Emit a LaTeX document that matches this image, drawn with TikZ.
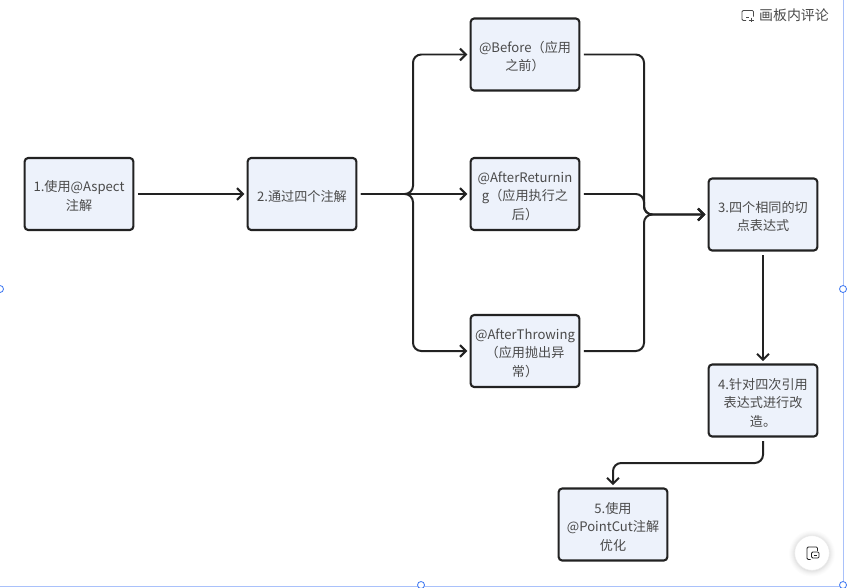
\documentclass[tikz,border=0pt]{standalone}
\usepackage{fontspec}
\setmainfont{Noto Sans CJK SC}
\usepackage{xcolor}
\usetikzlibrary{positioning,calc,arrows.meta}
\definecolor{boxfill}{HTML}{EDF2FB}
\definecolor{boxtext}{HTML}{4A4A4A}
\definecolor{linkdark}{HTML}{222222}
\definecolor{frameblue}{HTML}{A9C1FA}
\definecolor{handleblue}{HTML}{3F78F2}
\tikzset{
    stepbox/.style={draw=linkdark, fill=boxfill, line width=1.8pt, rounded corners=3pt,
        minimum width=3.26cm, minimum height=2.16cm, inner sep=0pt, text width=3.26cm,
        align=center, text=boxtext, font=\fontsize{11.2}{15.8}\selectfont,
        execute at begin node={\rule{0pt}{13pt}}},
    link/.style={draw=linkdark, line width=1.7pt, rounded corners=7pt, shorten <=3pt, shorten >=2pt,
        -{Straight Barb[length=5pt,width=10pt,line width=1.7pt]}},
    handle/.style={circle, draw=handleblue, fill=white, line width=0.7pt, minimum size=6pt, inner sep=0pt},
    icon/.style={draw=boxtext, line width=0.7pt, rounded corners=1pt}
}
\begin{document}
\begin{tikzpicture}[x=0.03cm, y=-0.03cm]
    \useasboundingbox (0,0) rectangle (848,587);
    \fill[white] (0,0) rectangle (848,587);

    % Frame
    \draw[frameblue, line width=0.8pt] (843,0) -- (843,586) -- (0,586);
    \foreach \p in {(0,289), (843,289), (421,585), (843,585)}
        \node[handle] at \p {};

    % Boxes
    \node[stepbox] (aspect) at (79,194) {1.使用@Aspect\\注解};
    \node[stepbox] (four) at (302,194) {2.通过四个注解};
    \node[stepbox] (before) at (525,54.5) {@Before（应用\\之前）};
    \node[stepbox] (returning) at (525,194) {@AfterReturnin\\g（应用执行之\\后）};
    \node[stepbox] (throwing) at (525,351) {@AfterThrowing\\（应用抛出异\\常）};
    \node[stepbox] (same) at (763,214.5) {3.四个相同的切\\点表达式};
    \node[stepbox] (reform) at (763,400.5) {4.针对四次引用\\表达式进行改\\造。};
    \node[stepbox] (pointcut) at (613,524.5) {5.使用\\@PointCut注解\\优化};

    % Turning points
    \coordinate (split) at (413,194);
    \coordinate (merge) at (644,214.5);
    \coordinate (turn) at (688,463);

    % Connectors
    \draw[link] (aspect) -- (four);
    \draw[link] (four.east) -- (split) |- (before.west);
    \draw[link] (four.east) -- (returning.west);
    \draw[link] (four.east) -- (split) |- (throwing.west);
    \draw[link] (before.east) -| (merge) -- (same.west);
    \draw[link] (returning.east) -| (merge) -- (same.west);
    \draw[link] (throwing.east) -| (merge) -- (same.west);
    \draw[link] (same) -- (reform);
    \draw[link] (reform.south) |- (turn) -| (pointcut.north);

    % Comment label
    \node[text=boxtext, font=\fontsize{11.9}{13}\selectfont] (comment) at (794,15.5) {画板内评论};
    \draw[icon] (746,20.5) -- (742,20.5) -- (742,10.5) -- (753.5,10.5) -- (753.5,16.5);
    \draw[icon] (746,17) -- (749,17) (751,17.5) -- (751,22) (748.5,20) -- (753.5,20);

    % Round button
    \foreach \r/\o in {23/0.01, 22/0.012, 21/0.015, 20/0.02, 19/0.025, 18/0.03}
        \fill[black, opacity=\o] (812,553.5) circle[radius=\r];
    \node[circle, draw=black!8, fill=white, line width=0.5pt, minimum size=1.04cm, inner sep=0pt] (button) at (812,553) {};
    \draw[icon, draw=linkdark] (817.5,551) -- (817.5,547) -- (807,547) -- (807,559.5) -- (810.5,559.5);
    \draw[icon, draw=linkdark, fill=white] (811.5,552) rectangle (819,558);
    \draw[icon, draw=linkdark] (813.5,555) -- (817,555);
\end{tikzpicture}
\end{document}
